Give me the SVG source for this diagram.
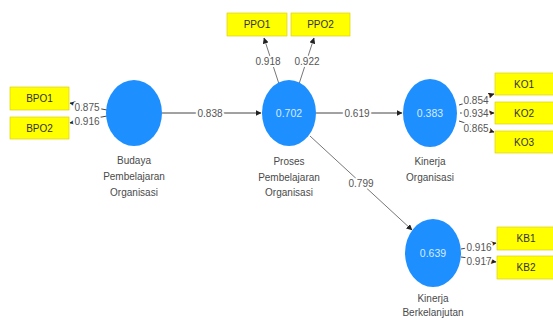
<svg xmlns="http://www.w3.org/2000/svg" width="553" height="320" viewBox="0 0 553 320">
<defs>
<marker id="ah" markerWidth="6" markerHeight="6" refX="5.5" refY="3" orient="auto" markerUnits="userSpaceOnUse">
<path d="M0,0 L6,3 L0,6 Z" fill="#222"/>
</marker>
<style>
.lv{fill:#1e8fff}
.lvv{font-family:"Liberation Sans",Arial,sans-serif;font-size:10.5px;fill:#d6ebff;text-anchor:middle}
.nm{font-family:"Liberation Sans",Arial,sans-serif;font-size:10px;fill:#4a4a4a;text-anchor:middle}
.box{fill:#ffff00;stroke:#d8c800;stroke-width:0.6}
.bt{font-family:"Liberation Sans",Arial,sans-serif;font-size:10px;fill:#333;text-anchor:middle}
.ln{stroke:#444;stroke-width:1;fill:none;marker-end:url(#ah)}
.lg{stroke:#777;stroke-width:1;fill:none;marker-end:url(#ah)}
.lb{font-family:"Liberation Sans",Arial,sans-serif;font-size:10px;fill:#555;text-anchor:middle;stroke:#fff;stroke-width:4;paint-order:stroke;stroke-linejoin:round}
</style>
</defs>
<rect width="553" height="320" fill="#fff"/>
<g id="connectors">
<path class="ln" d="M162,113 L261,113"/>
<text class="lb" x="210" y="117">0.838</text>
<path class="ln" d="M316,113 L402,113"/>
<text class="lb" x="357" y="117">0.619</text>
<path class="lg" d="M310,136 L412,230"/>
<text class="lb" x="361" y="187">0.799</text>
<path class="ln" d="M107,110 L70,103"/>
<text class="lb" x="87" y="111">0.875</text>
<path class="ln" d="M107,116 L70,123"/>
<text class="lb" x="87" y="125">0.916</text>
<path class="lg" d="M279,84 L264,38"/>
<text class="lb" x="268" y="65">0.918</text>
<path class="lg" d="M299,84 L314,38"/>
<text class="lb" x="307" y="65">0.922</text>
<path class="ln" d="M459,105 L494,94"/>
<text class="lb" x="476" y="104">0.854</text>
<path class="ln" d="M460,113 L494,113"/>
<text class="lb" x="476" y="117">0.934</text>
<path class="ln" d="M459,121 L494,132"/>
<text class="lb" x="476" y="132">0.865</text>
<path class="ln" d="M461,249 L496,243"/>
<text class="lb" x="479" y="251">0.916</text>
<path class="ln" d="M461,257 L496,262"/>
<text class="lb" x="479" y="265">0.917</text>
</g>
<g id="budaya">
<ellipse class="lv" cx="134" cy="113" rx="28" ry="33"/>
<text class="nm" x="134" y="164">Budaya</text>
<text class="nm" x="134" y="180">Pembelajaran</text>
<text class="nm" x="134" y="196">Organisasi</text>
</g>
<g id="proses">
<ellipse class="lv" cx="289" cy="113" rx="27" ry="33"/>
<text class="lvv" x="289" y="117">0.702</text>
<text class="nm" x="289" y="165">Proses</text>
<text class="nm" x="289" y="181">Pembelajaran</text>
<text class="nm" x="289" y="196">Organisasi</text>
</g>
<g id="kinerja-org">
<ellipse class="lv" cx="430" cy="113" rx="27" ry="34"/>
<text class="lvv" x="430" y="117">0.383</text>
<text class="nm" x="430" y="165">Kinerja</text>
<text class="nm" x="430" y="181">Organisasi</text>
</g>
<g id="kinerja-berk">
<ellipse class="lv" cx="433" cy="253" rx="28" ry="34"/>
<text class="lvv" x="433" y="257">0.639</text>
<text class="nm" x="433" y="302">Kinerja</text>
<text class="nm" x="433" y="316">Berkelanjutan</text>
</g>
<g id="BPO1"><rect class="box" x="10" y="87" width="59" height="23"/><text class="bt" x="39.5" y="102">BPO1</text></g>
<g id="BPO2"><rect class="box" x="10" y="117" width="59" height="22"/><text class="bt" x="39.5" y="131.5">BPO2</text></g>
<g id="PPO1"><rect class="box" x="227" y="13" width="60" height="23"/><text class="bt" x="257" y="28">PPO1</text></g>
<g id="PPO2"><rect class="box" x="291" y="13" width="59" height="23"/><text class="bt" x="320.5" y="28">PPO2</text></g>
<g id="KO1"><rect class="box" x="495" y="73" width="60" height="22"/><text class="bt" x="524" y="87.5">KO1</text></g>
<g id="KO2"><rect class="box" x="495" y="102" width="60" height="22"/><text class="bt" x="524" y="116.5">KO2</text></g>
<g id="KO3"><rect class="box" x="495" y="131" width="60" height="22"/><text class="bt" x="524" y="145.5">KO3</text></g>
<g id="KB1"><rect class="box" x="497" y="227" width="58" height="23"/><text class="bt" x="526" y="242">KB1</text></g>
<g id="KB2"><rect class="box" x="497" y="256" width="58" height="23"/><text class="bt" x="526" y="271">KB2</text></g>
</svg>
